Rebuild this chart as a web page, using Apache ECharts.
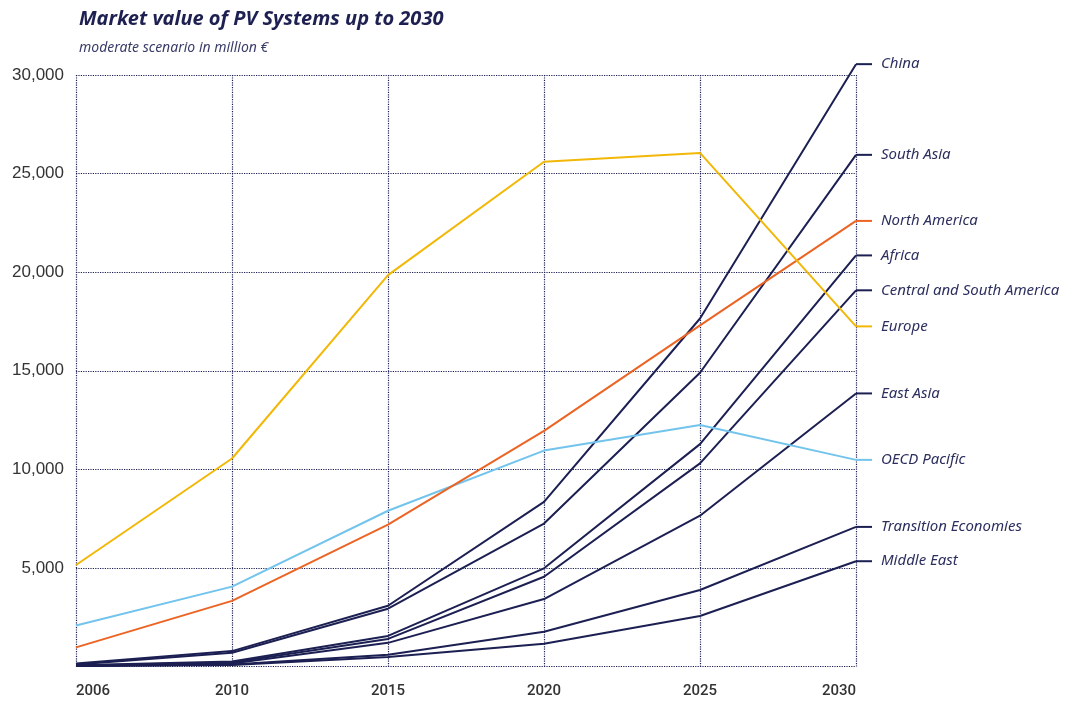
<!DOCTYPE html>
<html>
<head>
<meta charset="utf-8">
<script src="https://cdn.jsdelivr.net/npm/echarts@6/dist/echarts.min.js"></script>
<style>
html,body{margin:0;padding:0;background:#fff;}
#chart{width:1070px;height:707px;}
</style>
</head>
<body>
<div id="chart"></div>
<script>
var years = ['2006', '2010', '2015', '2020', '2025', '2030'];
var yTicks = [0, 5000, 10000, 15000, 20000, 25000, 30000];

var china = [150, 780, 3080, 8350, 17650, 30550];
var southAsia = [100, 700, 2930, 7250, 14900, 25950];
var northAmerica = [970, 3330, 7200, 11950, 17300, 22600];
var africa = [60, 250, 1550, 4980, 11280, 20850];
var centralSouthAmerica = [50, 200, 1400, 4550, 10300, 19080];
var europe = [5150, 10550, 19850, 25600, 26050, 17250];
var eastAsia = [40, 150, 1200, 3420, 7650, 13850];
var oecdPacific = [2080, 4050, 7900, 10950, 12250, 10480];
var transitionEconomies = [30, 100, 600, 1760, 3880, 7080];
var middleEast = [20, 80, 480, 1150, 2560, 5340];

var NAVY = '#1c1f52';
var TEXT = '#2c2f5e';

function mk(name, data, color) {
  return {
    name: name,
    type: 'line',
    data: data,
    symbol: 'none',
    clip: false,
    lineStyle: { color: color, width: 2 },
    itemStyle: { color: color },
    emphasis: { disabled: true },
    endLabel: {
      show: true,
      distance: 0,
      formatter: '{l| }{t|' + name + '}',
      rich: {
        l: { width: 16, height: 2, backgroundColor: color, verticalAlign: 'middle' },
        t: { fontFamily: 'Noto Sans', fontStyle: 'italic', fontSize: 15, color: TEXT, padding: [0, 0, 0, 9], verticalAlign: 'middle' }
      }
    }
  };
}

var chart = echarts.init(document.getElementById('chart'));
chart.setOption({
  animation: false,
  backgroundColor: '#ffffff',
  title: {
    text: 'Market value of PV Systems up to 2030',
    subtext: 'moderate scenario in million €',
    left: 74,
    top: 4,
    itemGap: 12,
    textStyle: { fontFamily: 'Noto Sans', fontStyle: 'italic', fontWeight: 'bold', fontSize: 20, color: '#1d2050' },
    subtextStyle: { fontFamily: 'Noto Sans', fontStyle: 'italic', fontSize: 14, color: '#3a3d68' }
  },
  grid: { left: 76, right: 214, top: 75, bottom: 40.5, containLabel: false },
  xAxis: {
    type: 'category',
    data: years,
    boundaryGap: false,
    axisLine: { show: false },
    axisTick: { show: false },
    axisLabel: { margin: 17, fontFamily: 'Roboto', fontWeight: 500, fontSize: 15, color: '#333333', alignMinLabel: 'left', alignMaxLabel: 'right' },
    splitLine: { show: true, lineStyle: { type: 'dotted', color: NAVY, width: 1.2 } }
  },
  yAxis: {
    type: 'value',
    min: yTicks[0],
    max: yTicks[yTicks.length - 1],
    interval: yTicks[1] - yTicks[0],
    axisLine: { show: false },
    axisTick: { show: false },
    axisLabel: {
      margin: 12,
      fontFamily: 'Liberation Sans',
      fontSize: 17,
      color: '#333333',
      formatter: function (v) { return v === 0 ? '' : v.toLocaleString('en-US'); }
    },
    splitLine: { show: true, lineStyle: { type: 'dotted', color: NAVY, width: 1.2 } }
  },
  series: [
    mk('Middle East', middleEast, NAVY),
    mk('Transition Economies', transitionEconomies, NAVY),
    mk('East Asia', eastAsia, NAVY),
    mk('Central and South America', centralSouthAmerica, NAVY),
    mk('Africa', africa, NAVY),
    mk('South Asia', southAsia, NAVY),
    mk('China', china, NAVY),
    mk('OECD Pacific', oecdPacific, '#72c4ec'),
    mk('North America', northAmerica, '#ec6424'),
    mk('Europe', europe, '#f2b807')
  ]
});
</script>
</body>
</html>
